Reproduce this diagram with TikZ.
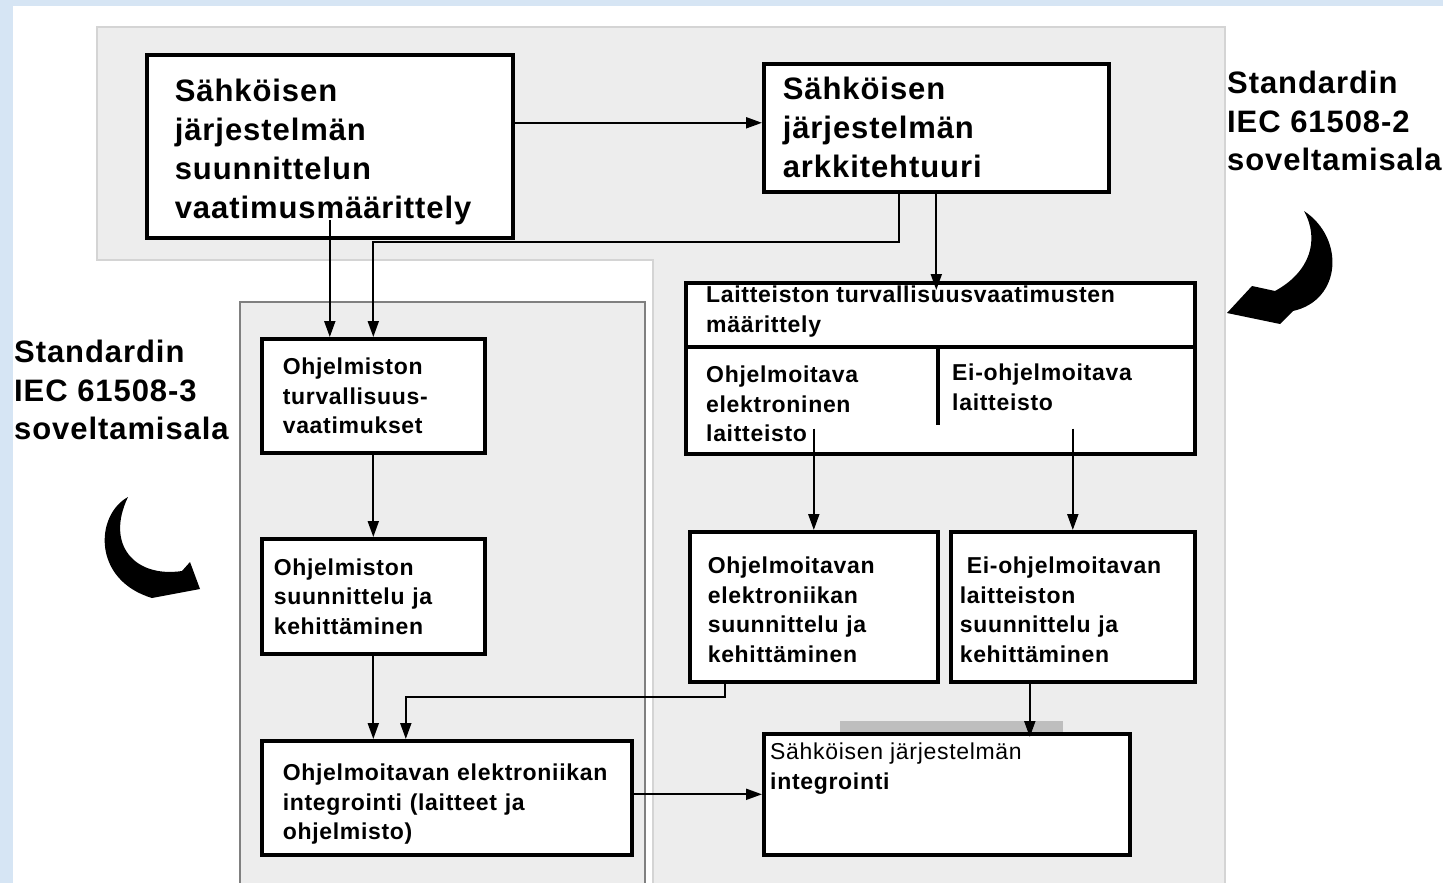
\documentclass[tikz,border=0pt]{standalone}
\usepackage{fontspec}
\setmainfont{Liberation Sans}[LetterSpace=3]
\usetikzlibrary{arrows.meta,positioning,calc}

\definecolor{slideblue}{RGB}{214,229,244}
\definecolor{scopegray}{RGB}{237,237,237}
\definecolor{scopeline}{RGB}{212,212,212}
\definecolor{innerline}{RGB}{128,128,128}
\definecolor{barshade}{RGB}{190,190,190}

\tikzset{
  box/.style={draw, line width=3.6pt, fill=white, anchor=north west, align=left, inner ysep=0pt},
  bigtxt/.style={font=\fontsize{31}{39}\selectfont\bfseries},
  smalltxt/.style={font=\fontsize{23}{29.5}\selectfont\bfseries},
  scopetxt/.style={font=\fontsize{31}{38.5}\selectfont\bfseries, anchor=north west, align=left, inner sep=0pt},
  conn/.style={line width=2pt, -{Triangle[length=16pt,width=11pt]}}
}

\begin{document}
\begin{tikzpicture}[x=1pt, y=-1pt]
    \useasboundingbox (0,0) rectangle (1443,883);
    % slide background
    \fill[slideblue] (0,0) rectangle (1443,883);
    \fill[white] (13,6) rectangle (1443,883);

    % scope areas
    \fill[scopegray] (97,27) -- (1225,27) -- (1225,883) -- (653,883) -- (653,260) -- (97,260) -- cycle;
    \draw[scopeline, line width=1.5pt] (653,883) -- (653,260) -- (97,260) -- (97,27) -- (1225,27) -- (1225,883);
    \fill[scopegray] (240,302) rectangle (645,883);
    \draw[innerline, line width=1.5pt] (240,883) -- (240,302) -- (645,302) -- (645,883);

    % top row
    \node[box, bigtxt, minimum width=366, minimum height=183, text width=310, inner xsep=28] (sysreq) at (145,53)
        {\rule{0pt}{33pt}Sähköisen\\järjestelmän\\suunnittelun\\vaatimusmäärittely};
    \node[box, bigtxt, minimum width=345, minimum height=128, text width=307, inner xsep=19] (sysarch) at (762,62)
        {Sähköisen\\järjestelmän\\arkkitehtuuri};

    % software side
    \node[box, smalltxt, minimum width=223, minimum height=114, text width=181, inner xsep=21] (swreq) at (260,337)
        {Ohjelmiston\\turvallisuus-\\vaatimukset};
    \node[box, smalltxt, minimum width=223, minimum height=115, text width=199, inner xsep=12] (swdev) at (260,537)
        {Ohjelmiston\\suunnittelu ja\\kehittäminen};
    \node[box, smalltxt, minimum width=370, minimum height=114, text width=328, inner xsep=21] (peint) at (260,739)
        {\rule{0pt}{30pt}Ohjelmoitavan~elektroniikan\\integrointi (laitteet ja\\ohjelmisto)};

    % hardware side
    \node[box, minimum width=509, minimum height=171] (hwreq) at (684,281) {};
    \draw[line width=3.6pt] ([yshift=-66pt]hwreq.north west) -- ([yshift=-66pt]hwreq.north east);
    \draw[line width=3.6pt] ([xshift=254pt,yshift=-66pt]hwreq.north west) -- ++(0,78);
    \node[smalltxt, anchor=north west, align=left, inner sep=0pt] (hwtitle) at (706,286)
        {Laitteiston turvallisuusvaatimusten\\määrittely};
    \node[smalltxt, anchor=north west, align=left, inner sep=0pt] (petype) at (706,366)
        {Ohjelmoitava\\elektroninen\\laitteisto};
    \node[smalltxt, anchor=north west, align=left, inner sep=0pt] (hwtype) at (952,364)
        {Ei-ohjelmoitava\\laitteisto};

    \node[box, smalltxt, minimum width=248, minimum height=150, text width=212, inner xsep=18] (pedev) at (688,530)
        {\rule{0pt}{23pt}Ohjelmoitavan\\elektroniikan\\suunnittelu ja\\kehittäminen};
    \node[box, smalltxt, minimum width=244, minimum height=150, text width=226, inner xsep=9] (hwdev) at (949,530)
        {\rule{0pt}{23pt}\hspace*{7pt}Ei-ohjelmoitavan\\laitteiston\\suunnittelu ja\\kehittäminen};

    \fill[barshade] (840,721) rectangle (1063,733);
    \node[box, minimum width=366, minimum height=121] (sysint) at (762,732) {};
    \node[anchor=north west, align=left, inner sep=0pt, font=\fontsize{23}{29.5}\selectfont] (sysinttxt) at (770,743)
        {Sähköisen järjestelmän\\\textbf{integrointi}};

    % connectors
    \draw[conn] (sysreq.east |- sysarch.west) ++(0,-5) -- ([yshift=5pt]sysarch.west);
    \draw[conn] ([yshift=20pt]sysreq.south) -- (sysreq.south |- swreq.north);
    \draw[conn] ([xshift=-37pt]sysarch.south) |- ($(swreq.north)+(0,-95)$) -- (swreq.north);
    \draw[conn] (sysarch.south) -- ($(sysarch.south |- hwreq.north)+(0,9)$);
    \draw[conn] (swreq.south) -- (swdev.north);
    \draw[conn] (swdev.south) -- (swdev.south |- peint.north);
    \draw[conn] ([xshift=37pt]pedev.south west) |- ($(peint.north)+(-41,-42)$) -- ($(peint.north)+(-41,0)$);
    \draw[conn] ($(hwreq.south -| pedev.north)+(0,-27)$) -- (pedev.north);
    \draw[conn] ($(hwreq.south -| hwdev.north)+(0,-27)$) -- (hwdev.north);
    \draw[conn] ($(hwdev.south)+(-43,0)$) -- ($(hwdev.south |- sysint.north)+(-43,5)$);
    \draw[conn] (peint.east |- sysint.west) -- (sysint.west);

    % scope labels
    \node[scopetxt] (iec2) at (1227,71) {Standardin\\IEC 61508-2\\soveltamisala};
    \node[scopetxt] (iec3) at (14,340) {Standardin\\IEC 61508-3\\soveltamisala};

    % curved arrows
    \fill (1304,211) .. controls (1345,238) and (1342,300) .. (1293,311)
        -- (1280,324) -- (1227,313) -- (1252,286) -- (1275,291)
        .. controls (1310,272) and (1320,240) .. (1304,211) -- cycle;
    \fill (128,497) .. controls (95,515) and (92,580) .. (152,598)
        -- (200,589) -- (190,562) -- (182,571)
        .. controls (135,578) and (105,545) .. (128,497) -- cycle;
\end{tikzpicture}
\end{document}
